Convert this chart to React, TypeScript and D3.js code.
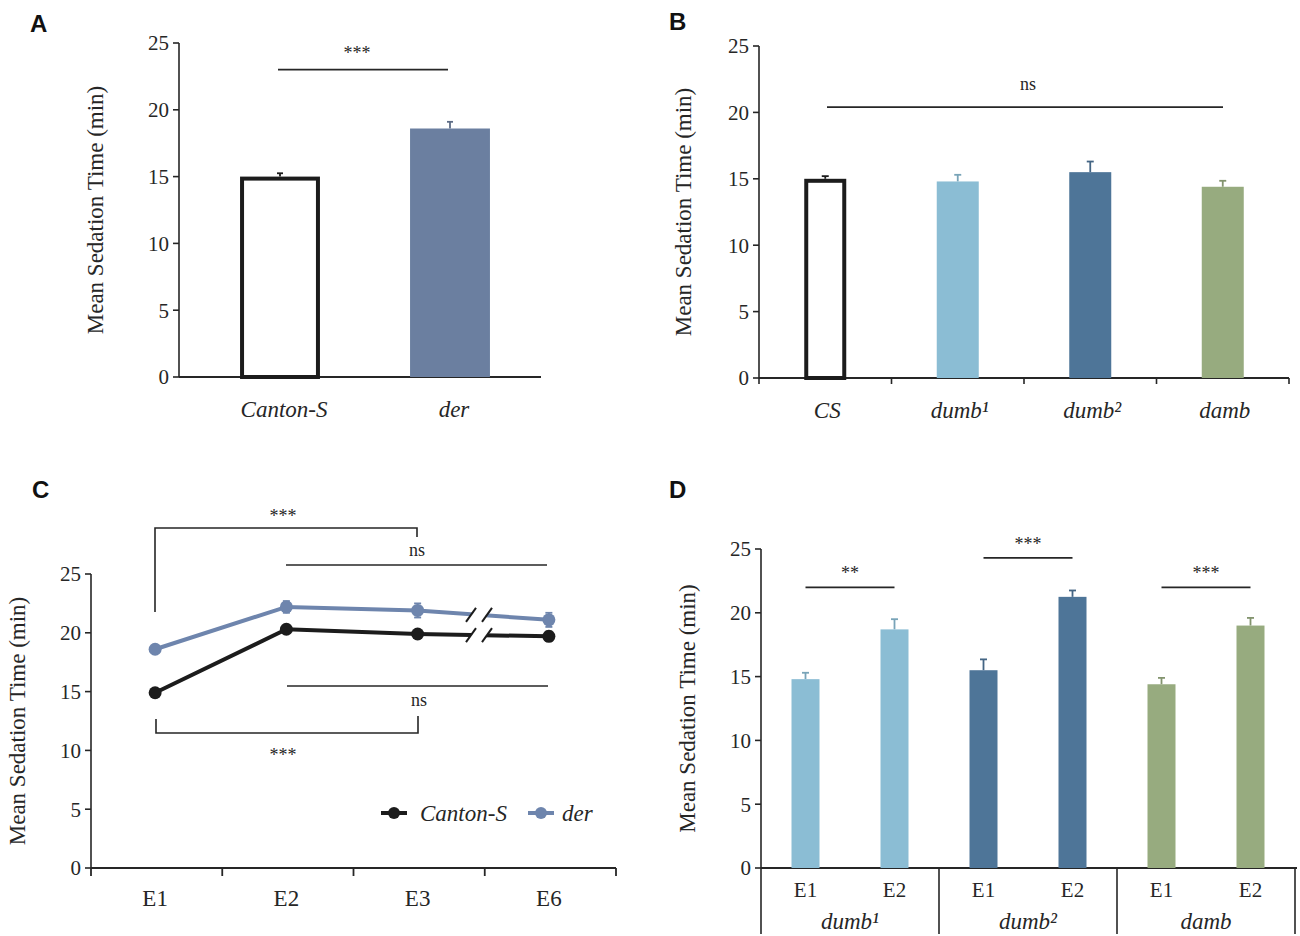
import React from 'react';
import * as d3 from 'd3';

// ---------- data ----------
const aCategories = ['Canton-S', 'der'];
const aValues = [15.0, 18.6];
const aErrors = [0.25, 0.5];

const bCategories = ['CS', 'dumb¹', 'dumb²', 'damb'];
const bValues = [15.0, 14.8, 15.5, 14.4];
const bErrors = [0.2, 0.5, 0.8, 0.45];

const cSessions = ['E1', 'E2', 'E3', 'E6'];
const cCantonS = [14.9, 20.3, 19.9, 19.7];
const cCantonSErr = [0.2, 0.3, 0.25, 0.4];
const cDer = [18.6, 22.2, 21.9, 21.1];
const cDerErr = [0.2, 0.5, 0.6, 0.6];

const dGroups = ['dumb¹', 'dumb²', 'damb'];
const dSessions = ['E1', 'E2'];
const dE1Values = [14.8, 15.5, 14.4];
const dE1Errors = [0.5, 0.85, 0.5];
const dE2Values = [18.7, 21.25, 19.0];
const dE2Errors = [0.8, 0.5, 0.6];

const yTicks = [0, 5, 10, 15, 20, 25];

// ---------- styles ----------
const SERIF = '"Liberation Serif", "Times New Roman", serif';
const SANS = '"Liberation Sans", Arial, sans-serif';
const AXIS = '#262626';
const BLACK = '#1c1c1c';
const DER = '#6b7fa0';
const DER_LINE = '#6e85ad';
const DUMB1 = '#8bbdd4';
const DUMB2 = '#4e7598';
const DAMB = '#97ab7f';
const bColors = ['#ffffff', DUMB1, DUMB2, DAMB];
const dColors = [DUMB1, DUMB2, DAMB];

const TICK_FS = 21;
const LABEL_FS = 23;

function YAxis({ y, x, label, labelX }: { y: d3.ScaleLinear<number, number>; x: number; label: string; labelX: number }) {
  const [y0, y1] = y.range();
  const mid = (y0 + y1) / 2;
  return (
    <g>
      <line x1={x} x2={x} y1={y0} y2={y1} stroke={AXIS} strokeWidth={1.6} />
      {yTicks.map((t) => (
        <g key={t}>
          <line x1={x - 6} x2={x} y1={y(t)} y2={y(t)} stroke={AXIS} strokeWidth={1.6} />
          <text x={x - 10} y={y(t)} dy="0.35em" textAnchor="end" fontFamily={SERIF} fontSize={TICK_FS} fill={AXIS}>
            {t}
          </text>
        </g>
      ))}
      <text
        transform={`translate(${labelX},${mid}) rotate(-90)`}
        textAnchor="middle"
        dy="0.35em"
        fontFamily={SERIF}
        fontSize={LABEL_FS}
        fill={AXIS}
      >
        {label}
      </text>
    </g>
  );
}

function ErrBar({ x, yTop, yErr, color, cap = 8 }: { x: number; yTop: number; yErr: number; color: string; cap?: number }) {
  return (
    <g stroke={color} strokeWidth={1.8}>
      <line x1={x} x2={x} y1={yTop} y2={yErr} />
      <line x1={x - cap / 2} x2={x + cap / 2} y1={yErr} y2={yErr} />
    </g>
  );
}

function PanelLetter({ x, y, t }: { x: number; y: number; t: string }) {
  return (
    <text x={x} y={y} fontFamily={SANS} fontWeight="bold" fontSize={24} fill="#111">
      {t}
    </text>
  );
}

function Stars({ x, y, t, fs = 18 }: { x: number; y: number; t: string; fs?: number }) {
  return (
    <text x={x} y={y} textAnchor="middle" fontFamily={SERIF} fontSize={fs} fill={AXIS}>
      {t}
    </text>
  );
}

function PanelA() {
  const y = d3.scaleLinear().domain([0, 25]).range([377, 43]);
  const x = d3.scaleBand<string>().domain(aCategories).range([195, 535]);
  const bw = x.bandwidth() * 0.47;
  return (
    <g>
      <PanelLetter x={30} y={32} t="A" />
      <YAxis y={y} x={179} label="Mean Sedation Time (min)" labelX={95} />
      <line x1={179} x2={541} y1={y(0)} y2={y(0)} stroke={AXIS} strokeWidth={1.8} />
      {aCategories.map((c, i) => {
        const cx = (x(c) as number) + x.bandwidth() / 2;
        const outlined = i === 0;
        const color = outlined ? BLACK : DER;
        return (
          <g key={c}>
            <ErrBar x={cx} yTop={y(aValues[i])} yErr={y(aValues[i] + aErrors[i])} color={outlined ? BLACK : '#5c6b85'} cap={6} />
            {outlined ? (
              <rect x={cx - bw / 2 + 2} y={y(aValues[i]) + 2} width={bw - 4} height={y(0) - y(aValues[i]) - 2} fill="#fff" stroke={BLACK} strokeWidth={4} />
            ) : (
              <rect x={cx - bw / 2} y={y(aValues[i])} width={bw} height={y(0) - y(aValues[i])} fill={color} />
            )}
            <text x={cx + 4} y={417} textAnchor="middle" fontFamily={SERIF} fontStyle="italic" fontSize={LABEL_FS} fill={AXIS}>
              {c}
            </text>
          </g>
        );
      })}
      <line x1={278} x2={448} y1={y(23)} y2={y(23)} stroke={AXIS} strokeWidth={1.8} />
      <Stars x={357} y={59} t="***" />
    </g>
  );
}

function PanelB() {
  const y = d3.scaleLinear().domain([0, 25]).range([378, 46]);
  const x = d3.scaleBand<string>().domain(bCategories).range([759, 1289]);
  const bw = x.bandwidth() * 0.317;
  const bounds = bCategories.map((c) => x(c) as number).concat([1289]);
  return (
    <g>
      <PanelLetter x={669} y={30} t="B" />
      <YAxis y={y} x={759} label="Mean Sedation Time (min)" labelX={683} />
      <line x1={759} x2={1289} y1={y(0)} y2={y(0)} stroke={AXIS} strokeWidth={1.8} />
      {bounds.map((b, i) => (
        <line key={i} x1={b} x2={b} y1={y(0)} y2={y(0) + 6} stroke={AXIS} strokeWidth={1.6} />
      ))}
      {bCategories.map((c, i) => {
        const cx = (x(c) as number) + x.bandwidth() / 2;
        const outlined = i === 0;
        return (
          <g key={c}>
            <ErrBar x={cx} yTop={y(bValues[i])} yErr={y(bValues[i] + bErrors[i])} color={outlined ? BLACK : d3.color(bColors[i])!.darker(0.4).toString()} cap={7} />
            {outlined ? (
              <rect x={cx - bw / 2 + 2} y={y(bValues[i]) + 2} width={bw - 4} height={y(0) - y(bValues[i]) - 2} fill="#fff" stroke={BLACK} strokeWidth={4} />
            ) : (
              <rect x={cx - bw / 2} y={y(bValues[i])} width={bw} height={y(0) - y(bValues[i])} fill={bColors[i]} />
            )}
            <text x={cx + 2} y={418} textAnchor="middle" fontFamily={SERIF} fontStyle="italic" fontSize={LABEL_FS} fill={AXIS}>
              {c}
            </text>
          </g>
        );
      })}
      <line x1={827} x2={1223} y1={y(20.4)} y2={y(20.4)} stroke={AXIS} strokeWidth={1.8} />
      <Stars x={1028} y={90} t="ns" />
    </g>
  );
}

function BreakMark({ x1, x2, yc }: { x1: number; x2: number; yc: number }) {
  const h = 7;
  const s = 5;
  return (
    <g>
      <polygon points={`${x1 - s},${yc + h} ${x1 + s},${yc - h} ${x2 + s},${yc - h} ${x2 - s},${yc + h}`} fill="#fff" />
      <line x1={x1 - s} y1={yc + h} x2={x1 + s} y2={yc - h} stroke={BLACK} strokeWidth={2} />
      <line x1={x2 - s} y1={yc + h} x2={x2 + s} y2={yc - h} stroke={BLACK} strokeWidth={2} />
    </g>
  );
}

function PanelC() {
  const y = d3.scaleLinear().domain([0, 25]).range([868, 574]);
  const x = d3.scaleBand<string>().domain(cSessions).range([91, 616]);
  const px = (s: string) => (x(s) as number) + x.bandwidth() / 2 - 1.5;
  const line = d3
    .line<number>()
    .x((_, i) => px(cSessions[i]))
    .y((v) => y(v));
  const bounds = cSessions.map((c) => x(c) as number).concat([616]);
  const series = [
    { name: 'Canton-S', vals: cCantonS, errs: cCantonSErr, color: BLACK },
    { name: 'der', vals: cDer, errs: cDerErr, color: DER_LINE },
  ];
  // break position between E3 and E6
  const bx1 = 471;
  const bx2 = 487;
  const interp = (vals: number[], xx: number) => {
    const xa = px(cSessions[2]);
    const xb = px(cSessions[3]);
    const t = (xx - xa) / (xb - xa);
    return y(vals[2] + (vals[3] - vals[2]) * t);
  };
  return (
    <g>
      <PanelLetter x={32} y={498} t="C" />
      <YAxis y={y} x={91} label="Mean Sedation Time (min)" labelX={17} />
      <line x1={91} x2={616} y1={y(0)} y2={y(0)} stroke={AXIS} strokeWidth={1.8} />
      {bounds.map((b, i) => (
        <line key={i} x1={b} x2={b} y1={y(0)} y2={y(0) + 8} stroke={AXIS} strokeWidth={1.8} />
      ))}
      {cSessions.map((s) => (
        <text key={s} x={px(s)} y={906} textAnchor="middle" fontFamily={SERIF} fontSize={LABEL_FS} fill={AXIS}>
          {s}
        </text>
      ))}
      {series.map((sr) => (
        <g key={sr.name}>
          <path d={line(sr.vals) as string} fill="none" stroke={sr.color} strokeWidth={4} />
          {sr.vals.map((v, i) => (
            <g key={i}>
              <ErrBar x={px(cSessions[i])} yTop={y(v)} yErr={y(v + sr.errs[i])} color={sr.color} cap={7} />
              <ErrBar x={px(cSessions[i])} yTop={y(v)} yErr={y(v - sr.errs[i])} color={sr.color} cap={7} />
              <circle cx={px(cSessions[i])} cy={y(v)} r={6.5} fill={sr.color} />
            </g>
          ))}
          <BreakMark x1={bx1} x2={bx2} yc={(interp(sr.vals, bx1) + interp(sr.vals, bx2)) / 2} />
        </g>
      ))}
      {/* top bracket */}
      <polyline points={`155,612 155,528 417,528 417,537`} fill="none" stroke={AXIS} strokeWidth={1.6} />
      <Stars x={283} y={522} t="***" />
      <line x1={286} x2={547} y1={565} y2={565} stroke={AXIS} strokeWidth={1.6} />
      <Stars x={417} y={556} t="ns" />
      {/* bottom bracket */}
      <line x1={287} x2={548} y1={686} y2={686} stroke={AXIS} strokeWidth={1.6} />
      <Stars x={419} y={706} t="ns" />
      <polyline points={`156,719 156,733 418,733 418,716`} fill="none" stroke={AXIS} strokeWidth={1.6} />
      <Stars x={283} y={761} t="***" />
      {/* legend */}
      <g>
        <line x1={381} x2={407} y1={813} y2={813} stroke={BLACK} strokeWidth={4} />
        <circle cx={394} cy={813} r={6} fill={BLACK} />
        <text x={420} y={821} fontFamily={SERIF} fontStyle="italic" fontSize={LABEL_FS} fill={AXIS}>
          Canton-S
        </text>
        <line x1={528} x2={554} y1={813} y2={813} stroke={DER_LINE} strokeWidth={4} />
        <circle cx={541} cy={813} r={6} fill={DER_LINE} />
        <text x={562} y={821} fontFamily={SERIF} fontStyle="italic" fontSize={LABEL_FS} fill={AXIS}>
          der
        </text>
      </g>
    </g>
  );
}

function PanelD() {
  const y = d3.scaleLinear().domain([0, 25]).range([868, 549]);
  const gx = d3.scaleBand<string>().domain(dGroups).range([761, 1295]);
  const sx = d3.scaleBand<string>().domain(dSessions).range([0, gx.bandwidth()]);
  const bw = 28;
  const bounds = dGroups.map((g) => gx(g) as number).concat([1295]);
  const sig = [
    { t: '**', v: 22.0 },
    { t: '***', v: 24.3 },
    { t: '***', v: 22.0 },
  ];
  return (
    <g>
      <PanelLetter x={669} y={498} t="D" />
      <YAxis y={y} x={761} label="Mean Sedation Time (min)" labelX={687} />
      <line x1={761} x2={1297} y1={y(0)} y2={y(0)} stroke={AXIS} strokeWidth={1.8} />
      {bounds.map((b, i) => (
        <line key={i} x1={b} x2={b} y1={y(0)} y2={934} stroke={AXIS} strokeWidth={1.6} />
      ))}
      {dGroups.map((g, gi) => {
        const g0 = gx(g) as number;
        const vals = [dE1Values[gi], dE2Values[gi]];
        const errs = [dE1Errors[gi], dE2Errors[gi]];
        const cxs = dSessions.map((s) => g0 + (sx(s) as number) + sx.bandwidth() / 2);
        return (
          <g key={g}>
            {dSessions.map((s, si) => (
              <g key={s}>
                <ErrBar x={cxs[si]} yTop={y(vals[si])} yErr={y(vals[si] + errs[si])} color={d3.color(dColors[gi])!.darker(0.4).toString()} cap={7} />
                <rect x={cxs[si] - bw / 2} y={y(vals[si])} width={bw} height={y(0) - y(vals[si])} fill={dColors[gi]} />
                <text x={cxs[si]} y={897} textAnchor="middle" fontFamily={SERIF} fontSize={TICK_FS} fill={AXIS}>
                  {s}
                </text>
              </g>
            ))}
            <line x1={cxs[0]} x2={cxs[1]} y1={y(sig[gi].v)} y2={y(sig[gi].v)} stroke={AXIS} strokeWidth={1.8} />
            <Stars x={(cxs[0] + cxs[1]) / 2} y={y(sig[gi].v) - 8} t={sig[gi].t} />
            <text x={(cxs[0] + cxs[1]) / 2} y={929} textAnchor="middle" fontFamily={SERIF} fontStyle="italic" fontSize={LABEL_FS} fill={AXIS}>
              {g}
            </text>
          </g>
        );
      })}
    </g>
  );
}

export default function App() {
  return (
    <svg width={1300} height={936} style={{ position: 'absolute', left: 0, top: 0, background: '#fff' }}>
      <rect x={0} y={0} width={1300} height={936} fill="#fff" />
      <PanelA />
      <PanelB />
      <PanelC />
      <PanelD />
    </svg>
  );
}
